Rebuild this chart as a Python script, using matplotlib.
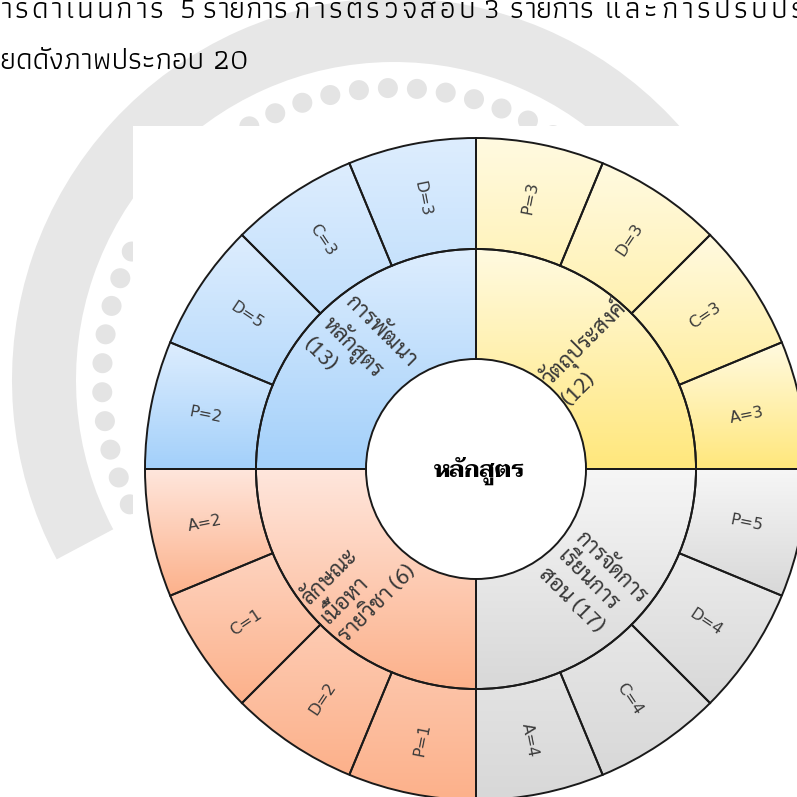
import numpy as np
import matplotlib
matplotlib.use("Agg")
import matplotlib.pyplot as plt
from matplotlib.patches import Wedge, Rectangle, Circle
from matplotlib.colors import to_rgb

# ข้อมูลแผนภาพ (เรียงตามเข็มนาฬิกา เริ่มจากด้านซ้าย)
group_names = ["การพัฒนา\nหลักสูตร\n", "วัตถุประสงค์\n", "การจัดการ\nเรียนการ\nสอน ", "ลักษณะ\nเนื้อหา\nรายวิชา "]
group_totals = [13, 12, 17, 6]
sub_letters = [["P", "D", "C", "D"], ["P", "D", "C", "A"], ["P", "D", "C", "A"], ["P", "D", "C", "A"]]
sub_values = [[2, 5, 3, 3], [3, 3, 3, 3], [5, 4, 4, 4], [1, 2, 1, 2]]
center_label = "หลักสูตร"

# สีไล่ระดับ (บน, ล่าง)
group_colors = [("#ddedfe", "#a3d0fa"), ("#fffae0", "#ffe77c"), ("#f6f6f6", "#d8d8d8"), ("#ffe6dc", "#fcb18b")]

# ข้อความในหน้าเอกสาร (บรรทัดบนถูกตัด, จัดแบบกระจาย)
page_words = ["ารดำเนินการ", "5", "รายการ", "การตรวจสอบ", "3", "รายการ", "และการปรับปรุง"]
page_word_x0 = [0, 180, 203, 293, 483, 510, 605]
page_word_x1 = [163, 193, 287, 475, 497, 593, 822]
page_line2 = "ยดดังภาพประกอบ 20"

thai_sans = ["Sarabun", "Noto Sans Thai Looped", "Noto Sans Thai", "DejaVu Sans"]
thai_serif = ["Taviraj", "Trirong", "Noto Serif Thai", "DejaVu Serif"]
thai_page = ["Athiti", "Noto Sans Thai", "DejaVu Sans"]

W = H = 797
cx, cy = 476, H - 469
r_out, r_mid, r_in = 331, 220, 110

fig = plt.figure(figsize=(7.97, 7.97), dpi=100)
ax = fig.add_axes([0, 0, 1, 1])
ax.set_xlim(0, W)
ax.set_ylim(0, H)
ax.set_aspect("equal")
ax.axis("off")
rend = fig.canvas.get_renderer()

# ลายน้ำจาง ๆ ด้านหลัง
wx, wy = 394, H - 380
ax.add_patch(Wedge((wx, wy), 382, 20, 208, width=64, color="#e7e7e7", lw=0, zorder=0))
for a in np.arange(0, 360, 5.7):
    t = np.radians(a)
    ax.add_patch(Circle((wx + 292 * np.cos(t), wy + 292 * np.sin(t)), 10,
                        color="#e4e4e4", lw=0, zorder=0.6))
ax.add_patch(Rectangle((133, 0), W - 133, H - 126, color="white", lw=0, zorder=1))


def grad_wedge(r, t1, t2, width, top, bottom):
    w = Wedge((cx, cy), r, t1, t2, width=width, facecolor="none",
              edgecolor="#1a1a1a", lw=1.4, zorder=4)
    ax.add_patch(w)
    v = w.get_path().vertices
    x0, x1 = v[:, 0].min(), v[:, 0].max()
    y0, y1 = v[:, 1].min(), v[:, 1].max()
    c = np.linspace(0, 1, 64)[:, None]
    img = (1 - c) * np.array(to_rgb(bottom)) + c * np.array(to_rgb(top))
    im = ax.imshow(img[:, None, :], extent=(x0, x1, y0, y1), origin="lower",
                   aspect="auto", interpolation="bilinear", zorder=3)
    im.set_clip_path(w)


def rot_for(a):
    a = (a + 180) % 360 - 180
    return a if np.cos(np.radians(a)) >= 0 else a - 180


# ขนาดตัวอักษรของวงใน: ให้ "การพัฒนา" ยาวราว 92 px
probe = ax.text(0, 0, "การพัฒนา", fontsize=12, family=thai_sans)
inner_fs = 12 * 92 / probe.get_window_extent(rend).width
probe.remove()

for i, name in enumerate(group_names):
    start = 180 - 90 * i
    top, bottom = group_colors[i]
    grad_wedge(r_mid, start - 90, start, r_mid - r_in, top, bottom)
    mid = start - 45
    t = np.radians(mid)
    rr = 165
    ax.text(cx + rr * np.cos(t), cy + rr * np.sin(t), name + "(%d)" % group_totals[i],
            rotation=rot_for(mid), rotation_mode="anchor", ha="center", va="center",
            multialignment="left", fontsize=inner_fs, family=thai_sans, color="#383838",
            linespacing=1.3, zorder=6)
    for j, (let, val) in enumerate(zip(sub_letters[i], sub_values[i])):
        t2 = start - 22.5 * j
        t1 = t2 - 22.5
        grad_wedge(r_out, t1, t2, r_out - r_mid, top, bottom)
        m = (t1 + t2) / 2
        tm = np.radians(m)
        ax.text(cx + 276 * np.cos(tm), cy + 276 * np.sin(tm), "%s=%d" % (let, val),
                rotation=rot_for(m), rotation_mode="anchor", ha="center", va="center",
                fontsize=11.5, family="DejaVu Sans", color="#3a3a3a", zorder=6)

ax.text(479, H - 471, center_label, ha="center", va="center", fontsize=17,
        fontweight="bold", family=thai_serif, color="black", zorder=6)

# ข้อความในหน้าเอกสาร: บรรทัดที่ 2 ยาวราว 248 px
line2 = ax.text(0, H - 69, page_line2, ha="left", va="baseline", fontsize=18,
                family=thai_page, color="black", zorder=7)
page_fs = 18 * 248 / line2.get_window_extent(rend).width
line2.set_fontsize(page_fs)

marks = set(chr(c) for c in [0x0E31] + list(range(0x0E34, 0x0E3B)) + list(range(0x0E47, 0x0E4F)))


def clusters(s):
    out = []
    for ch in s:
        if ch in marks and out:
            out[-1] += ch
        else:
            out.append(ch)
    return out


# บรรทัดแรก: กระจายอักษรให้เต็มช่วงของแต่ละคำ
for wd, x0, x1 in zip(page_words, page_word_x0, page_word_x1):
    cl = clusters(wd)
    objs = [ax.text(0, H - 18, c, ha="left", va="baseline", fontsize=page_fs,
                    family=thai_page, color="black", zorder=7) for c in cl]
    widths = [o.get_window_extent(rend).width for o in objs]
    gap = (x1 - x0 - sum(widths)) / max(len(cl) - 1, 1)
    x = x0
    for o, w in zip(objs, widths):
        o.set_x(x)
        x += w + gap

fig.savefig("out.png", dpi=100)
